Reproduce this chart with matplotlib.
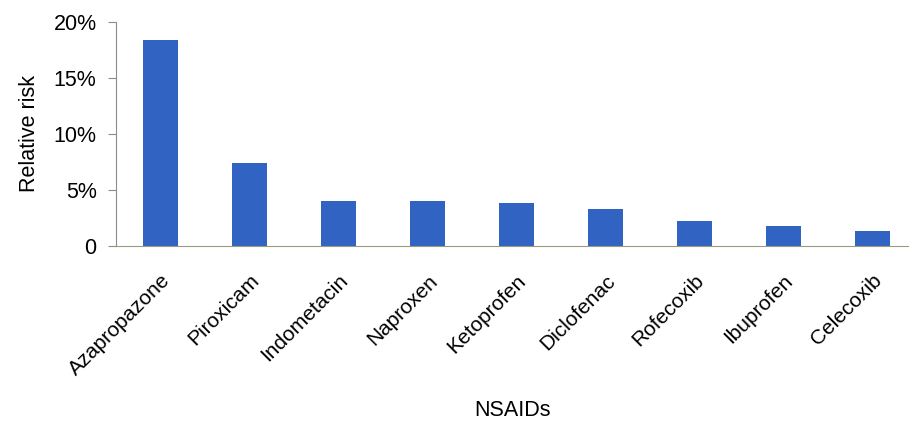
import matplotlib.pyplot as plt
import numpy as np

drugs = ["Azapropazone", "Piroxicam", "Indometacin", "Naproxen", "Ketoprofen",
         "Diclofenac", "Rofecoxib", "Ibuprofen", "Celecoxib"]
risk = [18.4, 7.4, 4.0, 4.0, 3.8, 3.3, 2.2, 1.8, 1.3]
yticks = [0, 5, 10, 15, 20]
ylabels = ["0", "5%", "10%", "15%", "20%"]

plt.rcParams["font.family"] = ["Liberation Sans", "DejaVu Sans"]

fig = plt.figure(figsize=(9.09, 4.24), dpi=100)
ax = fig.add_axes([116 / 909, 178 / 424, 801 / 909, 224 / 424])

x = np.arange(len(drugs))
ax.bar(x, risk, width=0.4, color="#3063C2")

ax.set_xlim(-0.5, len(drugs) - 0.5)
ax.set_ylim(0, 20)
ax.set_yticks(yticks)
ax.set_yticklabels(ylabels, fontsize=15.5)
ax.set_xticks(x)
ax.set_xticklabels(drugs, rotation=45, ha="right", rotation_mode="anchor", fontsize=15)

for side in ["top", "right"]:
    ax.spines[side].set_visible(False)
ax.spines["left"].set_color("#8c8c8c")
ax.spines["bottom"].set_color("#9a9a80")
ax.tick_params(axis="y", length=6, color="#8c8c8c", pad=8)
ax.tick_params(axis="x", length=0, pad=18)

ax.set_ylabel("Relative risk", fontsize=15.5, labelpad=10)
fig.text(513 / 909, 1 - 410 / 424, "NSAIDs", fontsize=15.5, ha="center", va="center")

fig.savefig("out.png", dpi=100)
